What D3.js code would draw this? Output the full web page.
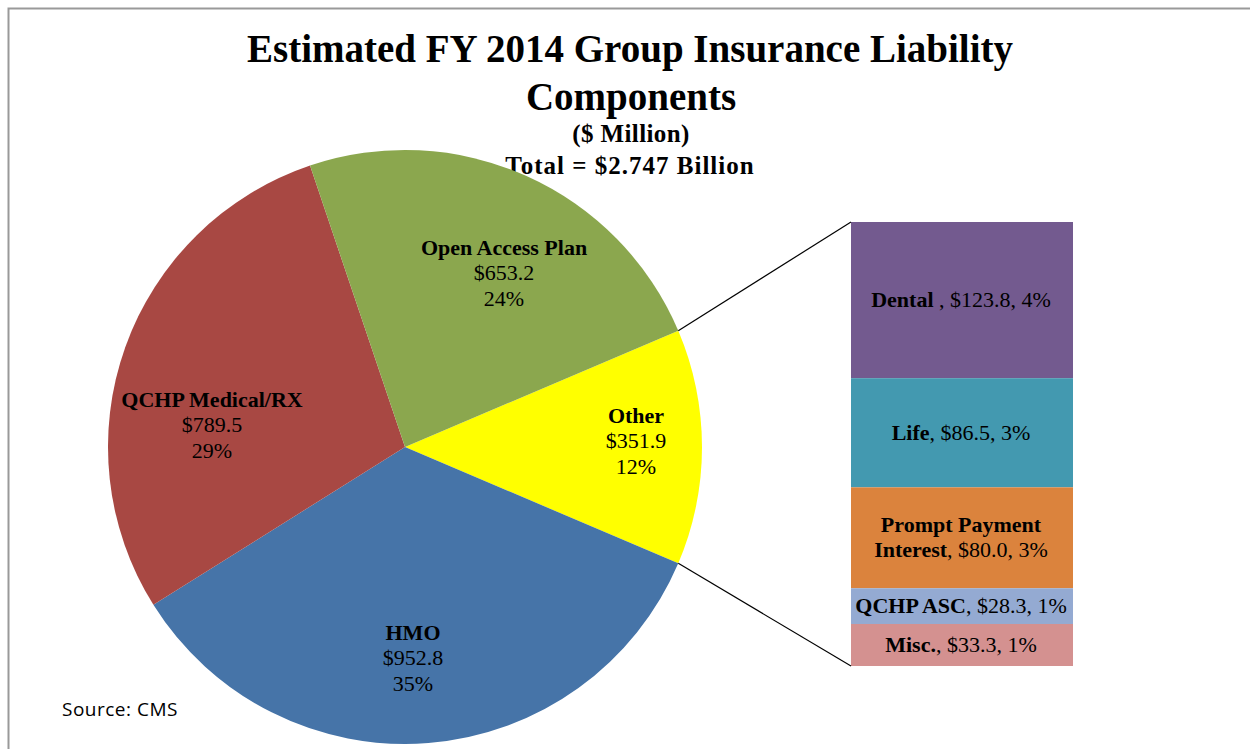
<!DOCTYPE html>
<html lang="en">
<head>
<meta charset="UTF-8">
<title>Group Insurance Liability</title>
<script src="https://d3js.org/d3.v7.min.js"></script>
<style>
    body { margin: 0; background: #fff; }
    text { font-family: "Liberation Serif", "Times New Roman", serif; fill: #000; }
    .title { font-weight: bold; }
    .lbl { font-size: 22px; }
    .b { font-weight: bold; }
    .src { font-family: "Open Sans", "Liberation Sans", sans-serif; font-size: 19px; letter-spacing: 0.5px; }
</style>
</head>
<body>
<script>
// main pie
var pieNames = ["Other", "HMO", "QCHP Medical/RX", "Open Access Plan"];
var pieValues = [351.9, 952.8, 789.5, 653.2];
var pieLabelsVal = ["$351.9", "$952.8", "$789.5", "$653.2"];
var piePct = ["12%", "35%", "29%", "24%"];
var pieColors = ["#FFFF00", "#4674A8", "#A84843", "#8BA74E"];

// breakdown of "Other"
var barNames = ["Dental", "Life", "Prompt Payment Interest", "QCHP ASC", "Misc."];
var barValues = [123.8, 86.5, 80.0, 28.3, 33.3];
var barPct = ["4%", "3%", "3%", "1%", "1%"];
var barColors = ["#735A8F", "#4399B0", "#DB833D", "#94AAD2", "#D49190"];

var width = 1250, height = 749;
var svg = d3.select("body").append("svg").attr("width", width).attr("height", height);

// frame
svg.append("path").attr("d", "M8.5,749 V8.5 H1250")
    .attr("fill", "none").attr("stroke", "#999").attr("stroke-width", 2);

// titles
svg.append("text").attr("class", "title").attr("x", 630).attr("y", 62)
    .attr("text-anchor", "middle").style("font-size", "39px")
    .text("Estimated FY 2014 Group Insurance Liability");
svg.append("text").attr("class", "title").attr("x", 631).attr("y", 110)
    .attr("text-anchor", "middle").style("font-size", "39px").text("Components");
svg.append("text").attr("class", "title").attr("x", 631).attr("y", 142)
    .attr("text-anchor", "middle").style("font-size", "25px").style("letter-spacing", "0.4px")
    .text("($ Million)");
svg.append("text").attr("class", "title").attr("x", 630).attr("y", 174)
    .attr("text-anchor", "middle").style("font-size", "25px").style("letter-spacing", "1px")
    .text("Total = $2.747 Billion");

var cx = 405, cy = 447, r = 297;
var total = d3.sum(pieValues);
var otherSpan = pieValues[0] / total * 2 * Math.PI;
var start = Math.PI / 2 - otherSpan / 2;

var pie = d3.pie().sort(null).startAngle(start).endAngle(start + 2 * Math.PI);
var arcs = pie(pieValues);
var arc = d3.arc().innerRadius(0).outerRadius(r);

var g = svg.append("g").attr("transform", "translate(" + cx + "," + cy + ")");
g.selectAll("path").data(arcs).enter().append("path")
    .attr("d", arc)
    .attr("fill", function (d, i) { return pieColors[i]; });

// label positions (middle-line baseline, relative to pie centre)
var pieLabelPos = [[231, 1], [8, 218], [-193, -15], [99, -167]];

arcs.forEach(function (d, i) {
    var p = pieLabelPos[i];
    var t = g.append("text").attr("class", "lbl").attr("text-anchor", "middle")
        .attr("transform", "translate(" + p[0] + "," + p[1] + ")");
    t.append("tspan").attr("x", 0).attr("y", -25.5).attr("class", "b").text(pieNames[i]);
    t.append("tspan").attr("x", 0).attr("y", 0).text(pieLabelsVal[i]);
    t.append("tspan").attr("x", 0).attr("y", 25.5).text(piePct[i]);
});

// stacked bar
var x0 = 851, x1 = 1073;
var y = d3.scaleLinear().domain([0, d3.sum(barValues)]).range([222, 666]);
var cum = 0;
var stack = barValues.map(function (v) { var s = { y0: cum, y1: cum + v }; cum += v; return s; });

svg.selectAll("rect.seg").data(stack).enter().append("rect")
    .attr("class", "seg")
    .attr("x", x0).attr("width", x1 - x0)
    .attr("y", function (d) { return y(d.y0); })
    .attr("height", function (d) { return y(d.y1) - y(d.y0); })
    .attr("fill", function (d, i) { return barColors[i]; });

var bx = (x0 + x1) / 2 - 1;
stack.forEach(function (d, i) {
    var my = (y(d.y0) + y(d.y1)) / 2 + 7;
    var val = ", $" + barValues[i].toFixed(1) + ", " + barPct[i];
    if (i === 2) {
        var t = svg.append("text").attr("class", "lbl").attr("text-anchor", "middle");
        t.append("tspan").attr("x", bx).attr("y", my - 12.5).attr("class", "b").text("Prompt Payment");
        var t2 = t.append("tspan").attr("x", bx).attr("y", my + 12.5);
        t2.append("tspan").attr("class", "b").text("Interest");
        t2.append("tspan").text(val);
    } else {
        var t = svg.append("text").attr("class", "lbl").attr("text-anchor", "middle")
            .attr("x", bx).attr("y", my);
        t.append("tspan").attr("class", "b").text(barNames[i]);
        t.append("tspan").text((i === 0 ? " " : "") + val);
    }
});

// connector lines
var a0 = arcs[0].startAngle, a1 = arcs[0].endAngle;
svg.append("line")
    .attr("x1", cx + r * Math.sin(a0)).attr("y1", cy - r * Math.cos(a0))
    .attr("x2", x0).attr("y2", y(0))
    .attr("stroke", "#000").attr("stroke-width", 1.2);
svg.append("line")
    .attr("x1", cx + r * Math.sin(a1)).attr("y1", cy - r * Math.cos(a1))
    .attr("x2", x0).attr("y2", y(d3.sum(barValues)))
    .attr("stroke", "#000").attr("stroke-width", 1.2);

svg.append("text").attr("class", "src").attr("x", 62).attr("y", 716).text("Source: CMS");
</script>
</body>
</html>
